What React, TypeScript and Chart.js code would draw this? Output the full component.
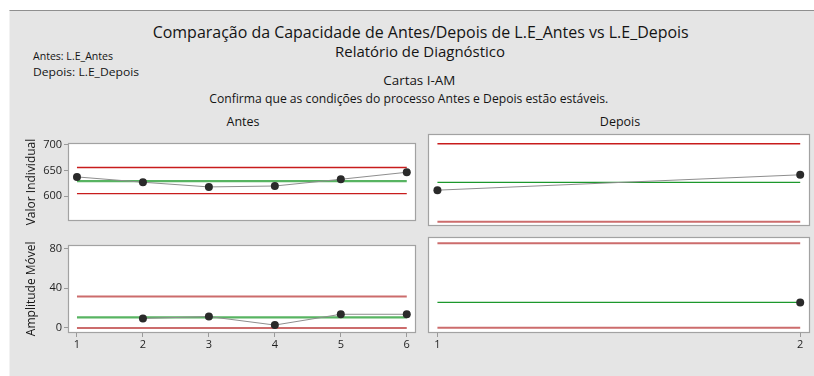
import React, { useEffect, useRef } from "react";
import { Chart, registerables } from "chart.js";

Chart.register(...registerables);

// ---- data -------------------------------------------------------------
const antesIndex = [1, 2, 3, 4, 5, 6];
const antesValues = [637.4, 627.0, 617.8, 619.6, 632.8, 646.5];
const antesMovingRange = [null, 9.6, 11.5, 2.9, 13.8, 13.8];
// [UCL, CL, LCL]
const antesILimits = [655.7, 629.3, 604.6];
const antesMRLimits = [31.7, 10.6, 0];

const depoisIndex = [1, 2];
const depoisValues = [613.1, 640.0];
const depoisMovingRange = [null, 24.4];
// [UCL, CL, LCL]
const depoisILimits = [694.4, 626.8, 557.7];
const depoisMRLimits = [81.5, 24.4, 0];

const individualTicks = [600, 650, 700];
const rangeTicks = [0, 40, 80];

// ---- styling ----------------------------------------------------------
const FONT = "'Open Sans', 'Noto Sans', sans-serif";
const TEXT = "#141414";
const RED_DARK = { color: "rgb(200,28,28)", width: 1.4 };
const RED_SOFT = { color: "rgb(204,108,108)", width: 2 };
const GREEN_SOFT = { color: "rgb(88,180,98)", width: 2.2 };
const GREEN_DARK = { color: "rgb(28,152,44)", width: 1.3 };

type LineStyle = { color: string; width: number };

type Panel = {
  box: { left: number; top: number; width: number; height: number };
  padding: { top: number; right: number; bottom: number; left: number };
  yWidth: number;
  xHeight: number;
  xRange: [number, number];
  yRange: [number, number];
  xTicks?: number[];
  yTicks?: number[];
  yTitle?: string;
  index: number[];
  values: (number | null)[];
  limits: number[];
  limitStyles: LineStyle[];
};

const panels: Panel[] = [
  {
    box: { left: 18, top: 134, width: 402, height: 96 },
    padding: { top: 4, right: 2, bottom: 2, left: 0 },
    yWidth: 50,
    xHeight: 0,
    xRange: [0.864, 6.14],
    yRange: [550.3, 704.6],
    yTicks: individualTicks,
    yTitle: "Valor Individual",
    index: antesIndex,
    values: antesValues,
    limits: antesILimits,
    limitStyles: [RED_DARK, GREEN_SOFT, RED_DARK],
  },
  {
    box: { left: 18, top: 236, width: 402, height: 120 },
    padding: { top: 4, right: 2, bottom: 0, left: 0 },
    yWidth: 50,
    xHeight: 23,
    xRange: [0.864, 6.14],
    yRange: [-5.1, 84.1],
    xTicks: antesIndex,
    yTicks: rangeTicks,
    yTitle: "Amplitude Móvel",
    index: antesIndex,
    values: antesMovingRange,
    limits: antesMRLimits,
    limitStyles: [RED_SOFT, GREEN_SOFT, RED_SOFT],
  },
  {
    box: { left: 424, top: 130, width: 390, height: 100 },
    padding: { top: 4, right: 2, bottom: 2, left: 4 },
    yWidth: 0,
    xHeight: 0,
    xRange: [0.974, 2.027],
    yRange: [550.3, 711.5],
    index: depoisIndex,
    values: depoisValues,
    limits: depoisILimits,
    limitStyles: [RED_DARK, GREEN_DARK, RED_SOFT],
  },
  {
    box: { left: 424, top: 232, width: 390, height: 124 },
    padding: { top: 5, right: 2, bottom: 0, left: 4 },
    yWidth: 0,
    xHeight: 23,
    xRange: [0.974, 2.027],
    yRange: [-5.1, 87.6],
    xTicks: depoisIndex,
    index: depoisIndex,
    values: depoisMovingRange,
    limits: depoisMRLimits,
    limitStyles: [RED_SOFT, GREEN_DARK, RED_SOFT],
  },
];

// White plotting area with a grey frame
const panelFrame = {
  id: "panelFrame",
  beforeDraw(chart: any) {
    const { ctx, chartArea } = chart;
    const l = Math.round(chartArea.left) + 0.5;
    const t = Math.round(chartArea.top) + 0.5;
    const r = Math.round(chartArea.right) - 0.5;
    const b = Math.round(chartArea.bottom) - 0.5;
    ctx.save();
    ctx.fillStyle = "#ffffff";
    ctx.fillRect(l, t, r - l, b - t);
    ctx.strokeStyle = "#a2a2a2";
    ctx.lineWidth = 1.2;
    ctx.strokeRect(l, t, r - l, b - t);
    ctx.restore();
  },
};

function ControlPanel({ panel }: { panel: Panel }) {
  const ref = useRef<HTMLCanvasElement>(null);

  useEffect(() => {
    const first = panel.index[0];
    const last = panel.index[panel.index.length - 1];

    const limitSets = panel.limits.map((v, i) => ({
      data: [
        { x: first, y: v },
        { x: last, y: v },
      ],
      borderColor: panel.limitStyles[i].color,
      borderWidth: panel.limitStyles[i].width,
      pointRadius: 0,
      fill: false,
      tension: 0,
    }));

    const series = {
      data: panel.index.map((x, i) => ({ x, y: panel.values[i] })),
      borderColor: "#8e8e8e",
      borderWidth: 1,
      pointRadius: 4,
      pointBackgroundColor: "#2a2a2a",
      pointBorderColor: "#2a2a2a",
      pointBorderWidth: 0,
      spanGaps: false,
      fill: false,
      tension: 0,
    };

    const tickFont = { family: FONT, size: 11 };
    const grid = {
      drawOnChartArea: false,
      drawTicks: true,
      tickLength: 4,
      color: "#9a9a9a",
      lineWidth: 1,
    };

    const chart = new Chart(ref.current as HTMLCanvasElement, {
      type: "line",
      data: { datasets: [series as any, ...limitSets] },
      plugins: [panelFrame],
      options: {
        animation: false,
        responsive: false,
        maintainAspectRatio: false,
        layout: { padding: panel.padding },
        plugins: { legend: { display: false }, tooltip: { enabled: false } },
        scales: {
          x: {
            type: "linear",
            display: !!panel.xTicks,
            min: panel.xRange[0],
            max: panel.xRange[1],
            afterBuildTicks: (s: any) => {
              s.ticks = (panel.xTicks || []).map((v) => ({ value: v }));
            },
            afterFit: (s: any) => {
              s.height = panel.xHeight;
            },
            grid,
            border: { display: false },
            ticks: {
              color: "#1f1f1f",
              font: tickFont,
              padding: 1,
              maxRotation: 0,
              autoSkip: false,
              callback: (v: any) => String(v),
            },
          },
          y: {
            type: "linear",
            display: !!panel.yTicks,
            min: panel.yRange[0],
            max: panel.yRange[1],
            afterBuildTicks: (s: any) => {
              s.ticks = (panel.yTicks || []).map((v) => ({ value: v }));
            },
            afterFit: (s: any) => {
              s.width = panel.yWidth;
            },
            grid,
            border: { display: false },
            title: {
              display: !!panel.yTitle,
              text: panel.yTitle || "",
              color: TEXT,
              font: { family: FONT, size: 12 },
              padding: { top: 6, bottom: 0 },
            },
            ticks: {
              color: "#1f1f1f",
              font: tickFont,
              padding: 2,
              autoSkip: false,
              callback: (v: any) => String(v),
            },
          },
        },
      },
    });
    return () => chart.destroy();
  }, [panel]);

  const { left, top, width, height } = panel.box;
  return (
    <canvas
      ref={ref}
      width={width}
      height={height}
      style={{ position: "absolute", left, top, width, height }}
    />
  );
}

type Label = {
  text: string;
  x: number;
  y: number;
  size: number;
  length?: number;
  anchor?: "start" | "middle";
};

const labels: Label[] = [
  { text: "Comparação da Capacidade de Antes/Depois de L.E_Antes vs L.E_Depois", x: 152.7, y: 38.3, size: 16, length: 536 },
  { text: "Relatório de Diagnóstico", x: 335, y: 56.7, size: 14, length: 170 },
  { text: "Antes: L.E_Antes", x: 33, y: 60, size: 11, length: 80 },
  { text: "Depois: L.E_Depois", x: 33, y: 76, size: 11, length: 106 },
  { text: "Cartas I-AM", x: 383.3, y: 85, size: 12, length: 72 },
  { text: "Confirma que as condições do processo Antes e Depois estão estáveis.", x: 209.3, y: 103.3, size: 12, length: 399 },
  { text: "Antes", x: 243, y: 126, size: 12.5, anchor: "middle" },
  { text: "Depois", x: 620, y: 126, size: 12.5, anchor: "middle" },
];

export default function App() {
  return (
    <div
      style={{
        position: "absolute",
        left: 0,
        top: 0,
        width: 814,
        height: 376,
        background: "#ffffff",
        overflow: "hidden",
      }}
    >
      <div
        style={{
          position: "absolute",
          left: 9,
          top: 10,
          right: 0,
          bottom: 0,
          background: "#e5e5e5",
          borderTop: "1px solid #8f8f8f",
          borderLeft: "1px solid #f2f2f2",
        }}
      />
      <svg
        width={814}
        height={376}
        style={{ position: "absolute", left: 0, top: 0 }}
      >
        {labels.map((l) => (
          <text
            key={l.text}
            x={l.x}
            y={l.y}
            fontFamily={FONT}
            fontSize={l.size}
            fill={TEXT}
            textAnchor={l.anchor || "start"}
            {...(l.length
              ? { textLength: l.length, lengthAdjust: "spacingAndGlyphs" }
              : {})}
          >
            {l.text}
          </text>
        ))}
      </svg>
      {panels.map((p, i) => (
        <ControlPanel key={i} panel={p} />
      ))}
    </div>
  );
}
